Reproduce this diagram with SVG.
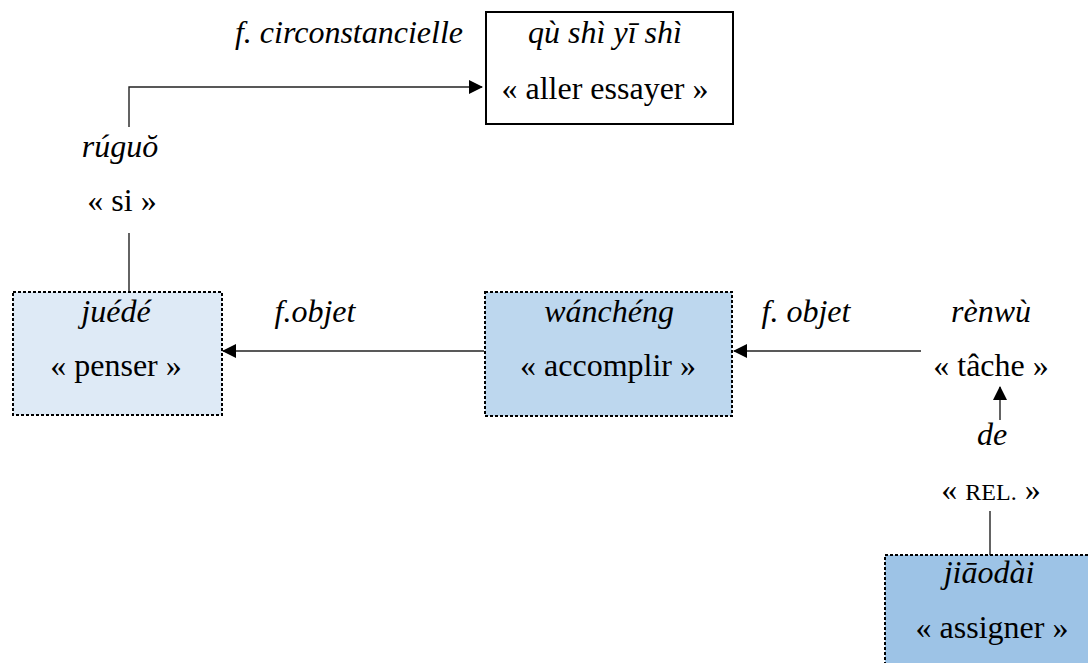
<svg xmlns="http://www.w3.org/2000/svg" width="1088" height="663" viewBox="0 0 1088 663" font-family="Liberation Serif" font-size="32">
<defs>
<marker id="ahl" markerWidth="14" markerHeight="14" refX="13" refY="7" orient="auto" markerUnits="userSpaceOnUse" viewBox="0 0 14 14">
<path d="M0,0 L14,7 L0,14 z" fill="#000"/>
</marker>
</defs>
<style>
text{fill:#000;text-anchor:middle}
.i{font-style:italic}
.box{stroke:#000;stroke-width:2;stroke-dasharray:3 2}
.ln{stroke:#222;stroke-width:1.4;fill:none}
</style>
<rect width="1088" height="663" fill="#fff"/>
<g id="connectors">
<path class="ln" d="M129,127 V87 H482" stroke-width="2" marker-end="url(#ahl)"/>
<line class="ln" x1="129" y1="233" x2="129" y2="291"/>
<line class="ln" x1="484" y1="351" x2="223" y2="351" marker-end="url(#ahl)"/>
<line class="ln" x1="921" y1="351" x2="734" y2="351" marker-end="url(#ahl)"/>
<line class="ln" x1="1000" y1="420" x2="1000" y2="387" marker-end="url(#ahl)"/>
<line class="ln" x1="990" y1="511" x2="990" y2="555"/>
</g>
<g id="label-circ"><text class="i" x="349" y="43" font-family="Liberation Serif">f. circonstancielle</text></g>
<g id="node-qushi">
<rect x="486" y="12" width="247" height="112" fill="#fff" stroke="#000" stroke-width="2"/>
<text class="i" x="605" y="43" font-family="Liberation Serif">qù shì yī shì</text>
<text x="605" y="99" font-family="Liberation Serif">« aller essayer »</text>
</g>
<g id="node-ruguo">
<text class="i" x="120" y="157" font-family="Liberation Serif">rúguŏ</text>
<text x="122" y="211" font-family="Liberation Serif">« si »</text>
</g>
<g id="node-juede">
<rect class="box" x="13" y="292" width="209" height="123" fill="#DEEAF6"/>
<text class="i" x="116" y="322" font-family="Liberation Serif">juédé</text>
<text x="116" y="376" font-family="Liberation Serif">« penser »</text>
</g>
<g id="label-fobjet1"><text class="i" x="315" y="322" font-family="Liberation Serif">f.objet</text></g>
<g id="node-wancheng">
<rect class="box" x="485" y="292" width="247" height="124" fill="#BDD7EE"/>
<text class="i" x="609" y="322" font-family="Liberation Serif">wánchéng</text>
<text x="608" y="376" font-family="Liberation Serif">« accomplir »</text>
</g>
<g id="label-fobjet2"><text class="i" x="806" y="322" font-family="Liberation Serif">f. objet</text></g>
<g id="node-renwu">
<text class="i" x="991" y="322" font-family="Liberation Serif">rènwù</text>
<text x="991" y="376" font-family="Liberation Serif">« tâche »</text>
</g>
<g id="node-de">
<text class="i" x="992" y="445" font-family="Liberation Serif">de</text>
<text x="991" y="500" font-family="Liberation Serif">« <tspan font-size="24">REL.</tspan> »</text>
</g>
<g id="node-jiaodai">
<rect class="box" x="885" y="555" width="210" height="115" fill="#9DC3E6"/>
<text class="i" x="989" y="583" font-family="Liberation Serif">jiāodài</text>
<text x="992" y="638" font-family="Liberation Serif">« assigner »</text>
</g>
</svg>
